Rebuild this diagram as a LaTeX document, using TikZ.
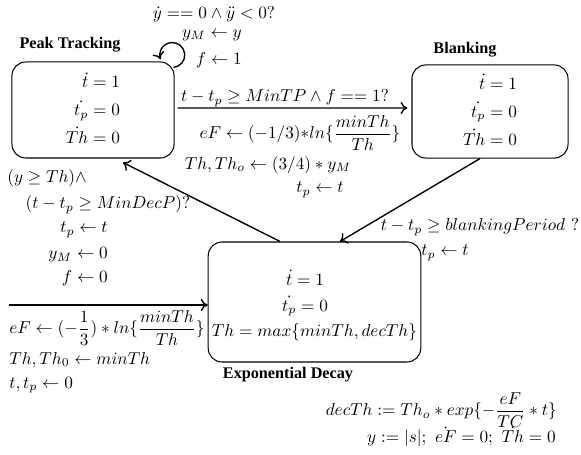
\documentclass[tikz,border=0pt]{standalone}
\usepackage{amsmath}
\usepackage{fontspec}
\newfontfamily\titlefont{Liberation Serif}
\usetikzlibrary{calc,arrows.meta}
\begin{document}
\begin{tikzpicture}[x=0.58pt,y=0.58pt,
  state/.style={draw,line width=0.6pt,rounded corners=8pt,inner sep=0pt},
  ttl/.style={font=\titlefont\bfseries\fontsize{9.4}{11}\selectfont,inner sep=0pt},
  lab/.style={inner sep=0pt},
  tr/.style={line width=0.8pt,-{To[length=4pt,width=7pt]}}]
\useasboundingbox (0,0) rectangle (581,455);
% states
\node[state,minimum width=94pt,minimum height=55.7pt] (pt) at (93,345)
  {$\renewcommand{\arraystretch}{1.35}\begin{array}{@{}r@{}}\dot t = 1\\ \dot{t_p} = 0\\ \dot{Th} = 0\end{array}$};
\node[state,minimum width=90.5pt,minimum height=54pt] (bl) at (490,343.5)
  {$\renewcommand{\arraystretch}{1.35}\begin{array}{@{}r@{}}\dot t = 1\\ \dot{t_p} = 0\\ \dot{Th} = 0\end{array}$};
\node[state,minimum width=123.3pt,minimum height=69.6pt] (ed) at (314.5,153)
  {$\renewcommand{\arraystretch}{1.25}\begin{array}{@{}c@{}}\rule{0pt}{15pt}\dot t = 1\hspace{11pt}\\ \dot{t_p} = 0\hspace{11pt}\\ Th = max\{minTh, decTh\}\end{array}$};
% titles
\node[ttl] (ptt) at (70,410) {Peak Tracking};
\node[ttl] (blt) at (465,405) {Blanking};
\node[ttl] (edt) at (288,80) {Exponential Decay};
% self loop
\draw[tr] ($(pt.north east)+(-1,-6)$) arc[start angle=-84,end angle=200,radius=12.5];
\node[lab] (l1) at (214,441) {$\dot y == 0 \wedge \ddot y < 0?$};
\node[lab,anchor=east] (l2) at (242,420) {$y_M \leftarrow y$};
\node[lab,anchor=east] (l3) at (242,395) {$f \leftarrow 1$};
% peak -> blanking
\draw[tr] ($(pt.east)+(3,2)$) -- ($(bl.west)+(-4,3.5)$);
\node[lab] (a1) at (285,357) {$t - t_p \geq MinTP \wedge f == 1?$};
\node[lab] (a2) at (300,322) {$eF \leftarrow (-1/3){\ast}ln\{\dfrac{minTh}{Th}\}$};
\node[lab] (a3) at (268,290) {$Th, Th_o \leftarrow (3/4) * y_M$};
\node[lab] (a4) at (320,265) {$t_p \leftarrow t$};
% decay -> peak
\draw[tr] ($(ed.north)+(-34.5,0)$) -- ($(pt.south)+(30,-4)$);
\node[lab] (b1) at (47,277) {$(y \geq Th)\wedge$};
\node[lab] (b2) at (108,250) {$(t - t_p \geq MinDecP)?$};
\node[lab,anchor=east] (b3) at (108,225) {$t_p \leftarrow t$};
\node[lab,anchor=east] (b4) at (108,200) {$y_M \leftarrow 0$};
\node[lab,anchor=east] (b5) at (108,177) {$f \leftarrow 0$};
% blanking -> decay
\draw[tr] ($(bl.south)+(-10,0)$) -- ($(ed.north)+(25.5,0)$);
\node[lab] (c1) at (480,228) {$t - t_p \geq blankingPeriod\ ?$};
\node[lab] (c2) at (445,202) {$t_p \leftarrow t$};
% initial
\coordinate (init) at (9,150);
\draw[tr] (init) -- ($(ed.west)+(0,-3)$);
\node[lab,anchor=west] (d1) at (9,127) {$eF \leftarrow (-\dfrac{1}{3}) * ln\{\dfrac{minTh}{Th}\}$};
\node[lab,anchor=west] (d2) at (9,95) {$Th, Th_0 \leftarrow minTh$};
\node[lab,anchor=west] (d3) at (9,70) {$t, t_p \leftarrow 0$};
% bottom right
\node[lab,anchor=east] (e1) at (557,45) {$decTh := Th_o * exp\{-\dfrac{eF}{TC} * t\}$};
\node[lab,anchor=east] (e2) at (556,18) {$y := |s|;\ \dot{eF} = 0;\ \dot{Th} = 0$};
\end{tikzpicture}
\end{document}
